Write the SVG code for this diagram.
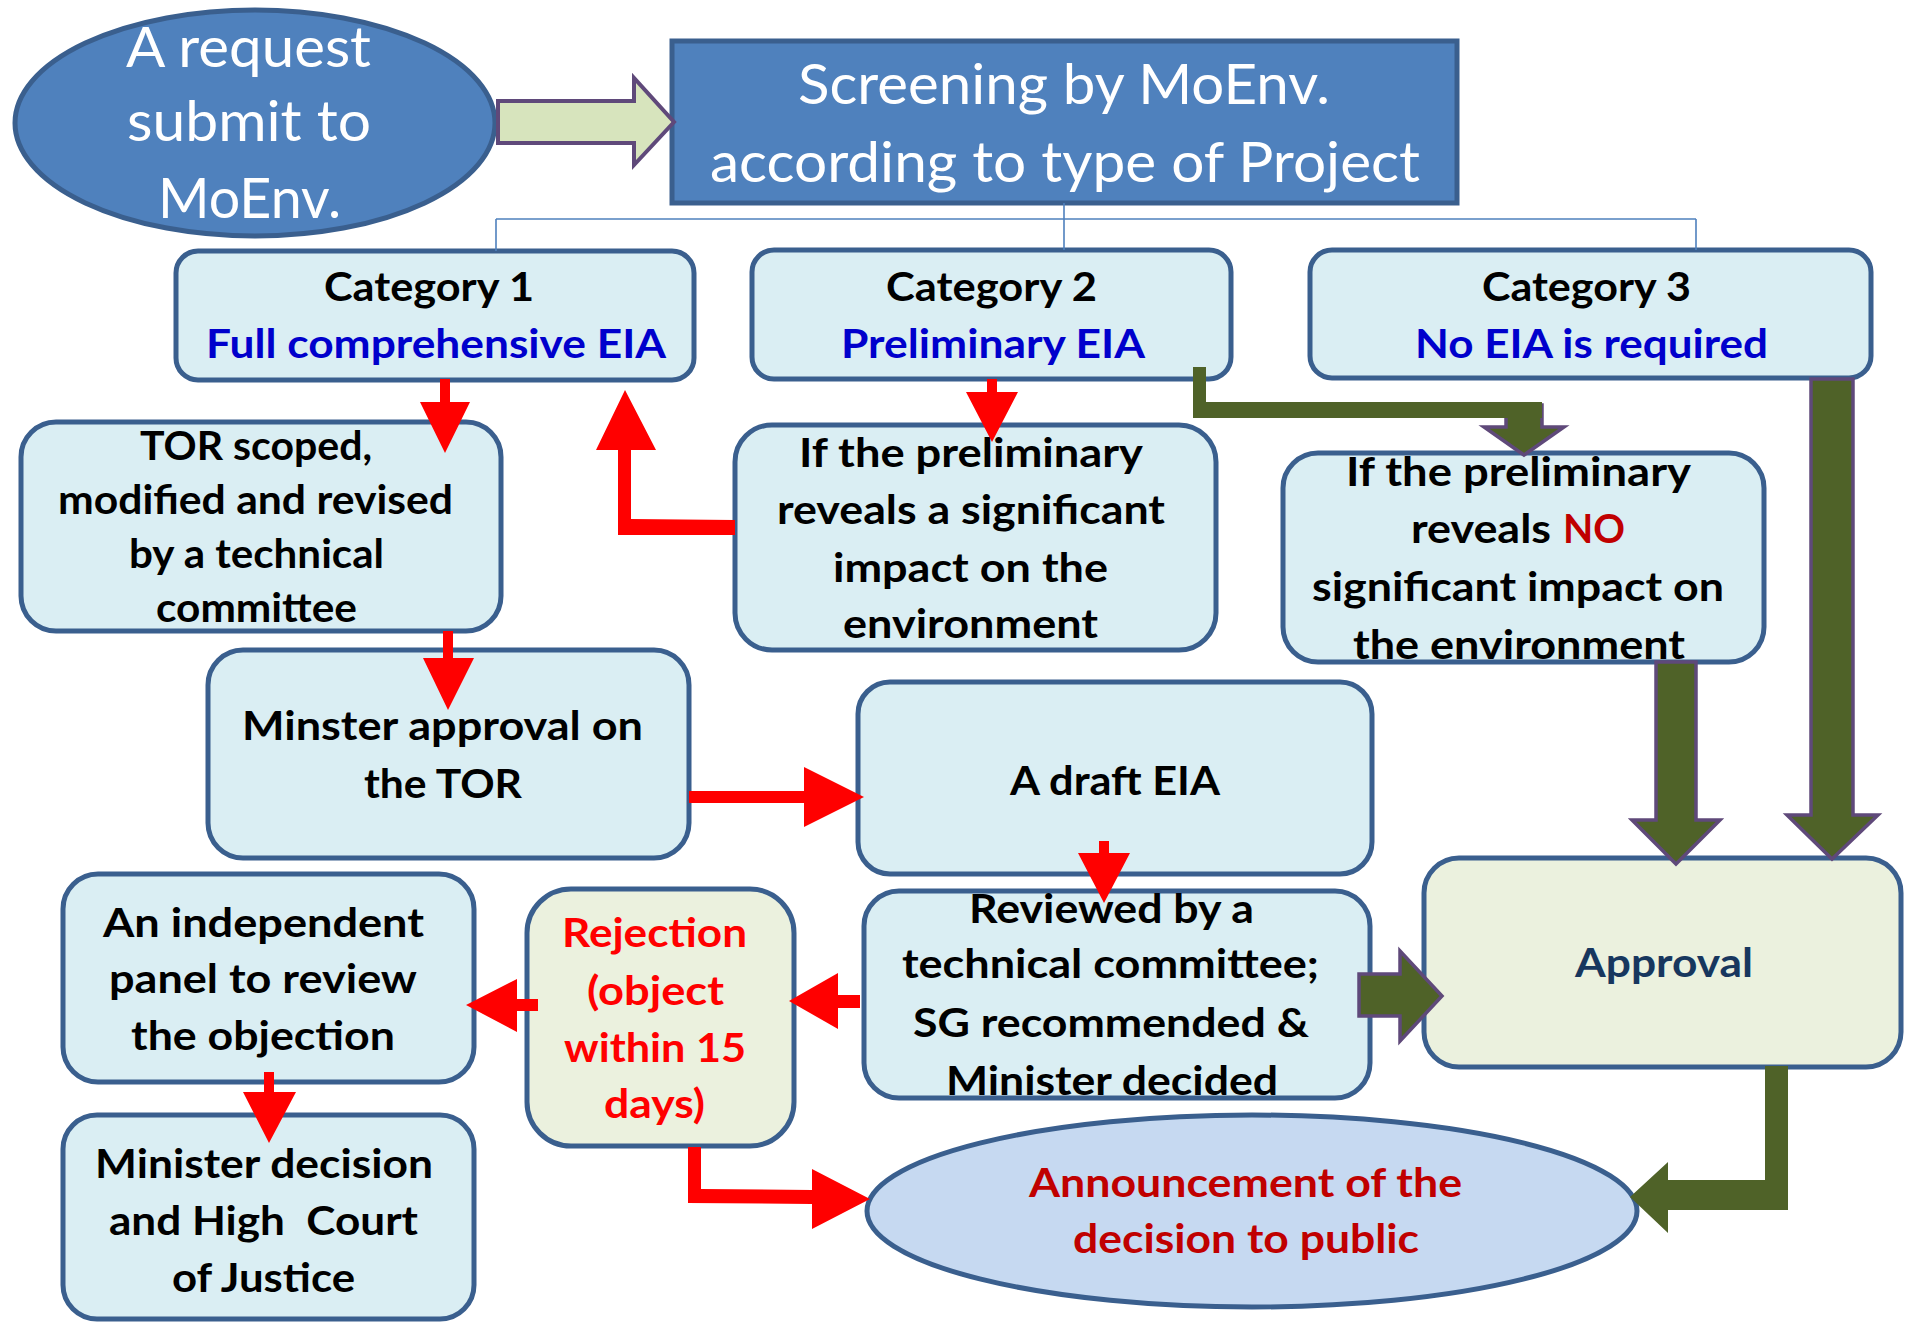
<svg xmlns="http://www.w3.org/2000/svg" width="1905" height="1322" viewBox="0 0 1905 1322">
<style>
.node{fill:#daeef3;stroke:#3a5f8e;stroke-width:5}
.cream{fill:#ebf1de}
.blue{fill:#4f81bd;stroke:#3a5f8e;stroke-width:5}
.t{font-family:Lato,"Open Sans",sans-serif;font-weight:700;font-size:41px;fill:#000}
.w{font-family:Lato,"Open Sans",sans-serif;font-weight:400;font-size:57px;fill:#fff}
.sub{fill:#0000cc}
.red{fill:#ff0000}
.dred{fill:#c00000}
.navy{fill:#17375e}
.tree{fill:none;stroke:#4f81bd;stroke-width:1.6}
.ra{fill:#ff0000}
.ga{fill:#4f6228;stroke:#5f497a;stroke-width:3.5}
.gb{fill:#4f6228}
</style>
<rect width="1905" height="1322" fill="#fff"/>

<g id="request">
<ellipse class="blue" cx="255" cy="123" rx="240" ry="113"/>
<text class="w" x="126" y="67" textLength="245" lengthAdjust="spacingAndGlyphs">A request</text>
<text class="w" x="127" y="141" textLength="244" lengthAdjust="spacingAndGlyphs">submit to</text>
<text class="w" x="158" y="218" textLength="183" lengthAdjust="spacingAndGlyphs">MoEnv.</text>
</g>

<g id="screening">
<rect class="blue" x="672" y="41" width="785" height="162"/>
<text class="w" x="798" y="104" textLength="532" lengthAdjust="spacingAndGlyphs">Screening by MoEnv.</text>
<text class="w" x="710" y="182" textLength="710" lengthAdjust="spacingAndGlyphs">according to type of Project</text>
</g>

<g id="cat1">
<rect class="node" x="176" y="251" width="518" height="129" rx="22"/>
<text class="t" x="324" y="301" textLength="210" lengthAdjust="spacingAndGlyphs">Category 1</text>
<text class="t sub" x="206" y="358" textLength="460" lengthAdjust="spacingAndGlyphs">Full comprehensive EIA</text>
</g>

<g id="cat2">
<rect class="node" x="752" y="250" width="479" height="129" rx="22"/>
<text class="t" x="886" y="301" textLength="211" lengthAdjust="spacingAndGlyphs">Category 2</text>
<text class="t sub" x="841" y="358" textLength="304" lengthAdjust="spacingAndGlyphs">Preliminary EIA</text>
</g>

<g id="cat3">
<rect class="node" x="1310" y="250" width="561" height="128" rx="22"/>
<text class="t" x="1482" y="301" textLength="209" lengthAdjust="spacingAndGlyphs">Category 3</text>
<text class="t sub" x="1415" y="358" textLength="353" lengthAdjust="spacingAndGlyphs">No EIA is required</text>
</g>

<g id="tor">
<rect class="node" x="21" y="422" width="480" height="209" rx="35"/>
<text class="t" x="140" y="460" textLength="232" lengthAdjust="spacingAndGlyphs">TOR scoped,</text>
<text class="t" x="58" y="514" textLength="395" lengthAdjust="spacingAndGlyphs">modified and revised</text>
<text class="t" x="129" y="568" textLength="255" lengthAdjust="spacingAndGlyphs">by a technical</text>
<text class="t" x="156" y="622" textLength="201" lengthAdjust="spacingAndGlyphs">committee</text>
</g>

<g id="significant">
<rect class="node" x="735" y="425" width="481" height="225" rx="37"/>
<text class="t" x="799" y="467" textLength="344" lengthAdjust="spacingAndGlyphs">If the preliminary</text>
<text class="t" x="777" y="524" textLength="388" lengthAdjust="spacingAndGlyphs">reveals a significant</text>
<text class="t" x="833" y="582" textLength="275" lengthAdjust="spacingAndGlyphs">impact on the</text>
<text class="t" x="843" y="638" textLength="255" lengthAdjust="spacingAndGlyphs">environment</text>
</g>

<g id="no-impact">
<rect class="node" x="1283" y="453" width="481" height="209" rx="35"/>
<text class="t" x="1346" y="486" textLength="345" lengthAdjust="spacingAndGlyphs">If the preliminary</text>
<text class="t" x="1411" y="543" textLength="140" lengthAdjust="spacingAndGlyphs">reveals</text>
<text class="t dred" x="1563" y="543" textLength="62" lengthAdjust="spacingAndGlyphs">NO</text>
<text class="t" x="1312" y="601" textLength="412" lengthAdjust="spacingAndGlyphs">significant impact on</text>
<text class="t" x="1353" y="659" textLength="332" lengthAdjust="spacingAndGlyphs">the environment</text>
</g>

<g id="minster">
<rect class="node" x="208" y="650" width="481" height="208" rx="35"/>
<text class="t" x="242" y="740" textLength="401" lengthAdjust="spacingAndGlyphs">Minster approval on</text>
<text class="t" x="364" y="798" textLength="158" lengthAdjust="spacingAndGlyphs">the TOR</text>
</g>

<g id="draft">
<rect class="node" x="858" y="682" width="514" height="192" rx="32"/>
<text class="t" x="1010" y="795" textLength="210" lengthAdjust="spacingAndGlyphs">A draft EIA</text>
</g>

<g id="reviewed">
<rect class="node" x="864" y="891" width="506" height="207" rx="35"/>
<text class="t" x="969" y="923" textLength="285" lengthAdjust="spacingAndGlyphs">Reviewed by a</text>
<text class="t" x="902" y="978" textLength="417" lengthAdjust="spacingAndGlyphs">technical committee;</text>
<text class="t" x="913" y="1037" textLength="396" lengthAdjust="spacingAndGlyphs">SG recommended &amp;</text>
<text class="t" x="946" y="1095" textLength="332" lengthAdjust="spacingAndGlyphs">Minister decided</text>
</g>

<g id="approval">
<rect class="node cream" x="1424" y="858" width="477" height="209" rx="35"/>
<text class="t navy" x="1575" y="977" textLength="178" lengthAdjust="spacingAndGlyphs">Approval</text>
</g>

<g id="panel">
<rect class="node" x="63" y="874" width="411" height="208" rx="35"/>
<text class="t" x="103" y="937" textLength="321" lengthAdjust="spacingAndGlyphs">An independent</text>
<text class="t" x="109" y="993" textLength="308" lengthAdjust="spacingAndGlyphs">panel to review</text>
<text class="t" x="131" y="1050" textLength="264" lengthAdjust="spacingAndGlyphs">the objection</text>
</g>

<g id="rejection">
<rect class="node cream" x="527" y="889" width="267" height="257" rx="44"/>
<text class="t red" x="562" y="947" textLength="185" lengthAdjust="spacingAndGlyphs">Rejection</text>
<text class="t red" x="587" y="1005" textLength="137" lengthAdjust="spacingAndGlyphs">(object</text>
<text class="t red" x="564" y="1062" textLength="182" lengthAdjust="spacingAndGlyphs">within 15</text>
<text class="t red" x="604" y="1118" textLength="101" lengthAdjust="spacingAndGlyphs">days)</text>
</g>

<g id="minister-decision">
<rect class="node" x="63" y="1115" width="411" height="204" rx="34"/>
<text class="t" x="95" y="1178" textLength="338" lengthAdjust="spacingAndGlyphs">Minister decision</text>
<text class="t" x="109" y="1235" textLength="309" lengthAdjust="spacingAndGlyphs" xml:space="preserve">and High  Court</text>
<text class="t" x="172" y="1292" textLength="183" lengthAdjust="spacingAndGlyphs">of Justice</text>
</g>

<g id="announcement">
<ellipse cx="1252" cy="1211" rx="385" ry="96" fill="#c6d9f1" stroke="#3a5f8e" stroke-width="5"/>
<text class="t dred" x="1029" y="1197" textLength="433" lengthAdjust="spacingAndGlyphs">Announcement of the</text>
<text class="t dred" x="1073" y="1253" textLength="346" lengthAdjust="spacingAndGlyphs">decision to public</text>
</g>

<g id="connectors">
<path class="tree" d="M1064,203 V219 M496,219 H1696 M496,219 V251 M1064,219 V250 M1696,219 V250"/>
<path d="M498,101 H634 V78 L674,122 L634,165 V143 H498 Z" fill="#d7e4bd" stroke="#5f497a" stroke-width="4"/>
<!-- red -->
<path class="ra" d="M440,379 H450 V402 H470 L445,453 L420,402 H440 Z"/>
<path class="ra" d="M987,379 H997 V392 H1018 L992,442 L966,392 H987 Z"/>
<path class="ra" d="M735,520 L631,519 V450 H656 L625,390 L596,450 H618 V535 L735,535 Z"/>
<path class="ra" d="M443,631 H453 V658 H474 L448,710 L423,658 H443 Z"/>
<path class="ra" d="M689,791 H804 V767 L864,797 L804,827 V803 H689 Z"/>
<path class="ra" d="M1099,841 H1109 V853 H1130 L1104,903 L1078,853 H1099 Z"/>
<path class="ra" d="M860,995 V1008 H838 V1029 L789,1001 L838,973 V995 Z"/>
<path class="ra" d="M538,999 V1011 H517 V1032 L466,1005 L517,979 V999 Z"/>
<path class="ra" d="M264,1072 H274 V1092 H296 L269,1143 L243,1092 H264 Z"/>
<path class="ra" d="M688,1147 H701 V1189 L812,1190 V1169 L870,1199 L812,1229 V1204 L688,1203 Z"/>
<!-- green -->
<path class="ga" d="M1506,405 V427 H1484 L1524,455 L1564,427 H1542 V405 Z"/>
<path class="gb" d="M1193,367 H1206 V402 H1542 V418 H1193 Z"/>
<path class="ga" d="M1656,662 H1696 V820 H1720 L1676,864 L1632,820 H1656 Z"/>
<path class="ga" d="M1811,379 H1853 V815 H1878 L1832,859 L1787,815 H1811 Z"/>
<path class="ga" d="M1359,974 H1400 V951 L1442,996 L1400,1041 V1016 H1359 Z"/>
<path class="gb" d="M1765,1066 H1788 V1210 H1668 V1233 L1630,1197 L1668,1162 V1180 H1765 Z"/>
</g>
</svg>
